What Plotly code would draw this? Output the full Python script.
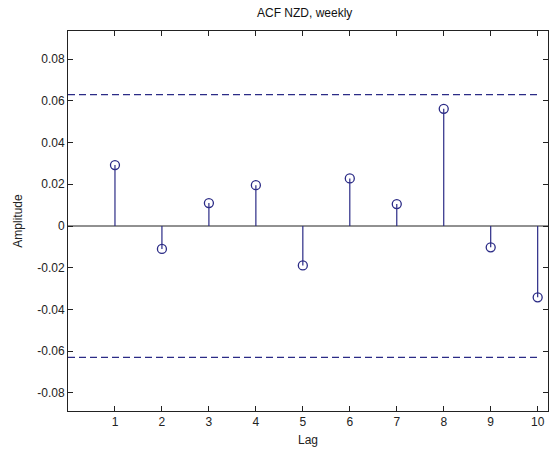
import plotly.graph_objects as go

# Sample autocorrelation of weekly NZD returns, lags 1..10
lags = [1, 2, 3, 4, 5, 6, 7, 8, 9, 10]
acf = [0.0292, -0.0110, 0.0110, 0.0196, -0.0189, 0.0228, 0.0105, 0.0562, -0.0102, -0.0342]
conf_bound = 0.0630  # approx. 95% band
band_x = [0, 10]

ytick_vals = [-0.08, -0.06, -0.04, -0.02, 0, 0.02, 0.04, 0.06, 0.08]
ytick_text = ["-0.08", "-0.06", "-0.04", "-0.02", "0", "0.02", "0.04", "0.06", "0.08"]
xtick_vals = lags

stem_color = "#2b2b86"
font = dict(family="Liberation Sans, Arial, sans-serif", size=12, color="#222222")

# stems as one trace broken by None
sx, sy = [], []
for lag, v in zip(lags, acf):
    sx += [lag, lag, None]
    sy += [0, v, None]

fig = go.Figure()
# zero baseline
fig.add_trace(go.Scatter(x=[0, 10.25], y=[0, 0], mode="lines",
                         line=dict(color="#222222", width=1), hoverinfo="skip"))
fig.add_trace(go.Scatter(x=sx, y=sy, mode="lines",
                         line=dict(color=stem_color, width=1.2), hoverinfo="skip"))
fig.add_trace(go.Scatter(x=lags, y=acf, mode="markers",
                         marker=dict(symbol="circle-open", size=9,
                                     color=stem_color, line=dict(width=1.3))))
for b in (conf_bound, -conf_bound):
    fig.add_trace(go.Scatter(x=band_x, y=[b, b], mode="lines",
                             line=dict(color=stem_color, width=1.2, dash="7px,4px"),
                             hoverinfo="skip"))

axis_common = dict(showgrid=False, zeroline=False, showline=True, linecolor="#222222",
                   linewidth=1, mirror="ticks", ticks="inside", ticklen=5,
                   tickcolor="#222222", tickfont=font)

fig.update_layout(
    width=549, height=454,
    margin=dict(l=68, r=1, t=31, b=43),
    paper_bgcolor="white", plot_bgcolor="white",
    showlegend=False,
    font=font,
    title=dict(text="ACF NZD, weekly", x=0.555, xanchor="center",
               y=0.972, yanchor="middle", font=dict(size=12, color="#111111",
                                                  family=font["family"])),
    xaxis=dict(range=[0, 10.22], tickvals=xtick_vals,
               title=dict(text="Lag", standoff=7, font=font), **axis_common),
    yaxis=dict(range=[-0.0887, 0.0935], tickvals=ytick_vals, ticktext=ytick_text,
               title=dict(text="Amplitude", standoff=12, font=font), **axis_common),
)

fig.write_html("out.html")
